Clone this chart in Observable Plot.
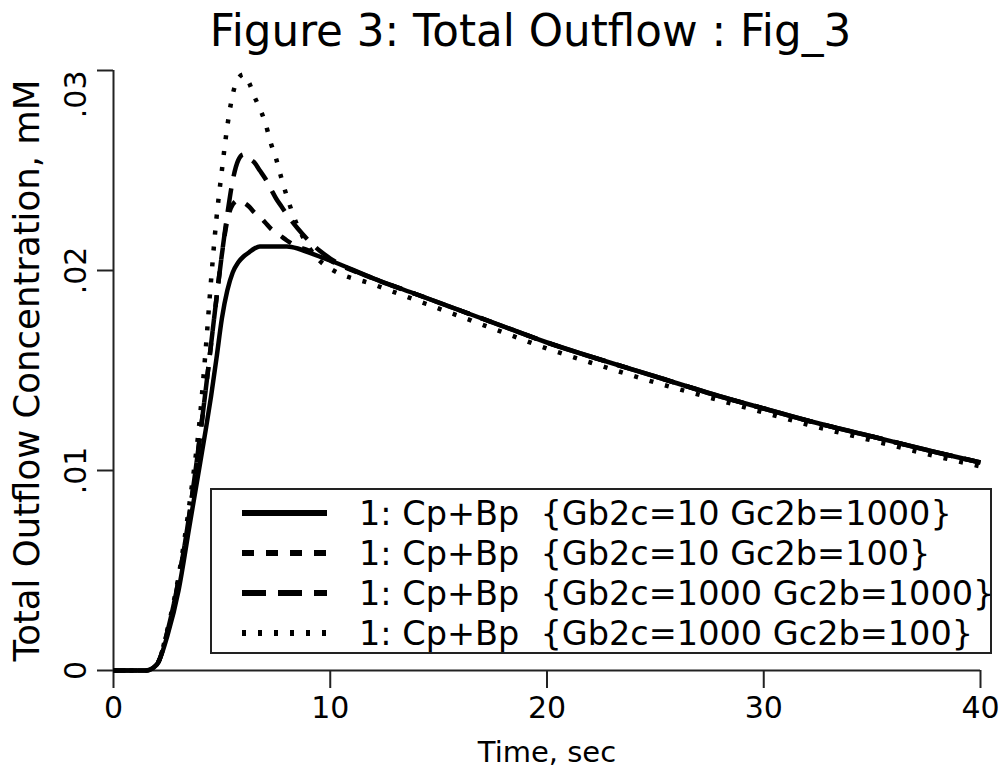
<!DOCTYPE html>
<html>
<head>
<meta charset="utf-8">
<script src="https://cdn.jsdelivr.net/npm/d3@7"></script>
<script src="https://cdn.jsdelivr.net/npm/@observablehq/plot@0.6"></script>
<style>
  html, body { margin: 0; padding: 0; background: #fff; }
  #wrap { position: relative; width: 1005px; height: 778px; font-family: "DejaVu Sans", sans-serif; color: #000; overflow: hidden; }
  #title { height: 62px; line-height: 62px; font-size: 43.6px; text-align: center; padding-left: 56px; white-space: nowrap; }
  #legend { position: absolute; left: 210px; top: 488px; width: 778px; height: 162px; border: 2px solid #222; background: #fff; box-sizing: content-box; }
  .row { position: absolute; left: 0; height: 40px; display: flex; align-items: center; }
  .row svg { margin-left: 30px; }
  .row span { margin-left: 32px; font-size: 33.5px; white-space: pre; }
</style>
</head>
<body>
<div id="wrap">
  <div id="title">Figure 3: Total Outflow : Fig_3</div>
  <div id="chart"></div>
  <div id="legend"></div>
</div>
<script>
// Time, sec
const time = [0, 1, 1.5, 2, 2.5, 3, 3.5, 4, 4.25, 4.5, 4.75, 5, 5.25, 5.5, 5.75, 6, 6.25, 6.5, 6.75, 7, 7.25, 7.5, 7.75, 8, 8.5, 9, 9.5, 10, 12, 14, 16, 18, 20, 22, 25, 28, 30, 32, 35, 38, 40];
// Total outflow concentration, mM
const gb10_gc1000 = [0, 0, 0, 0.0003, 0.0018, 0.0040, 0.0072, 0.0104, 0.0120, 0.0137, 0.0156, 0.0176, 0.0190, 0.0199, 0.0204, 0.0207, 0.0209, 0.0211, 0.0212, 0.0212, 0.0212, 0.0212, 0.0212, 0.0212, 0.0211, 0.0209, 0.0207, 0.0205, 0.0196, 0.0188, 0.0180, 0.0172, 0.0164, 0.0157, 0.0147, 0.0137, 0.0131, 0.0125, 0.0117, 0.0109, 0.0104];
const gb10_gc100 = [0, 0, 0, 0.0003, 0.0020, 0.0045, 0.0078, 0.0118, 0.0140, 0.0163, 0.0186, 0.0208, 0.0225, 0.0233, 0.0235, 0.0234, 0.0232, 0.0229, 0.0227, 0.0224, 0.0221, 0.0219, 0.0217, 0.0215, 0.0212, 0.0210, 0.0208, 0.0205, 0.0196, 0.0188, 0.0180, 0.0172, 0.0164, 0.0157, 0.0147, 0.0137, 0.0131, 0.0125, 0.0117, 0.0109, 0.0104];
const gb1000_gc1000 = [0, 0, 0, 0.0003, 0.0020, 0.0045, 0.0078, 0.0118, 0.0140, 0.0163, 0.0186, 0.0208, 0.0228, 0.0245, 0.0255, 0.0258, 0.0256, 0.0254, 0.0250, 0.0246, 0.0241, 0.0236, 0.0232, 0.0228, 0.0221, 0.0215, 0.0210, 0.0206, 0.0196, 0.0188, 0.0180, 0.0172, 0.0164, 0.0157, 0.0147, 0.0137, 0.0131, 0.0125, 0.0117, 0.0109, 0.0104];
const gb1000_gc100 = [0, 0, 0, 0.0003, 0.0021, 0.0047, 0.0083, 0.0128, 0.0160, 0.0195, 0.0226, 0.0250, 0.0272, 0.0288, 0.0296, 0.0298, 0.0294, 0.0287, 0.0281, 0.0274, 0.0264, 0.0256, 0.0246, 0.0237, 0.0222, 0.0212, 0.0205, 0.0201, 0.0193, 0.0185, 0.0177, 0.0169, 0.0161, 0.0154, 0.0144, 0.0135, 0.0129, 0.0123, 0.0115, 0.0107, 0.0102];

const seriesLabels = [
  "1: Cp+Bp  {Gb2c=10 Gc2b=1000}",
  "1: Cp+Bp  {Gb2c=10 Gc2b=100}",
  "1: Cp+Bp  {Gb2c=1000 Gc2b=1000}",
  "1: Cp+Bp  {Gb2c=1000 Gc2b=100}"
];
const seriesValues = [gb10_gc1000, gb10_gc100, gb1000_gc1000, gb1000_gc100];
const dashPatterns = [null, "12,12", "24,12", "4,12"];

const xTicks = [0, 10, 20, 30, 40];
const yTicks = [0, 0.01, 0.02, 0.03];
const yTickLabels = ["0", ".01", ".02", ".03"];

const lineMarks = seriesValues.map((vals, i) => {
  const rows = time.map((t, j) => ({t, v: vals[j]}));
  return Plot.line(rows, {
    x: "t", y: "v", curve: "monotone-x",
    stroke: "#000", strokeWidth: 4.5,
    strokeDasharray: dashPatterns[i] || undefined,
    strokeLinecap: "butt", strokeLinejoin: "round"
  });
});

const lastTick = yTicks.length - 1;
const chart = Plot.plot({
  width: 1005,
  height: 716,
  marginTop: 8,
  marginBottom: 108,
  marginLeft: 113,
  marginRight: 25,
  style: {fontFamily: "DejaVu Sans, sans-serif", color: "#000", background: "#fff", overflow: "visible"},
  x: {domain: [0, 40]},
  y: {domain: [0, 0.03]},
  marks: [
    Plot.axisX({ticks: xTicks, tickSize: 18, tickPadding: 8, fontSize: 30, tickFormat: d => String(d), label: null, stroke: "#222", strokeWidth: 2}),
    Plot.axisY({ticks: yTicks, tickSize: 16, tickFormat: () => "", label: null, stroke: "#222", strokeWidth: 2}),
    Plot.text(yTicks.slice(0, lastTick), {x: 0, y: d => d, text: (d, i) => yTickLabels[i], rotate: -90, textAnchor: "middle", lineAnchor: "middle", dx: -37, fontSize: 30}),
    Plot.text(yTicks.slice(lastTick), {x: 0, y: d => d, text: () => yTickLabels[lastTick], rotate: -90, textAnchor: "end", lineAnchor: "middle", dx: -37, fontSize: 30}),
    Plot.ruleY([0], {stroke: "#222", strokeWidth: 2}),
    Plot.ruleX([0], {stroke: "#222", strokeWidth: 2}),
    ...lineMarks,
    Plot.text(["Time, sec"], {frameAnchor: "bottom", dy: 82, fontSize: 29, lineAnchor: "middle"}),
    Plot.text(["Total Outflow Concentration, mM"], {frameAnchor: "left", dx: -86, rotate: -90, fontSize: 35.5, lineAnchor: "middle", textAnchor: "middle"})
  ]
});
document.getElementById("chart").appendChild(chart);

const legend = d3.select("#legend");
seriesLabels.forEach((lab, i) => {
  const row = legend.append("div").attr("class", "row").style("top", (3 + i * 40) + "px");
  const svg = row.append("svg").attr("width", 85).attr("height", 12);
  svg.append("line").attr("x1", 0).attr("x2", 85).attr("y1", 6).attr("y2", 6)
    .attr("stroke", "#000").attr("stroke-width", 6)
    .attr("stroke-dasharray", dashPatterns[i]);
  row.append("span").text(lab);
});
</script>
</body>
</html>
